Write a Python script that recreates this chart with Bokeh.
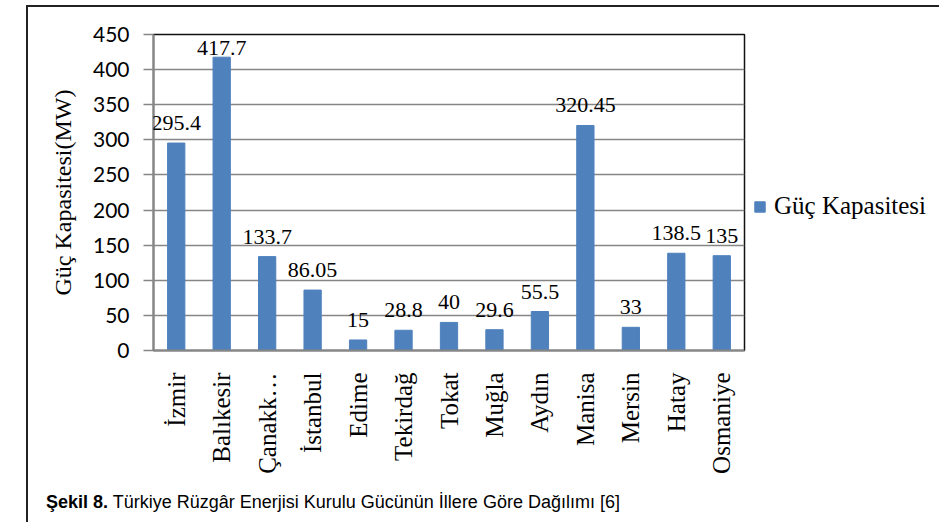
import numpy as np
from bokeh.plotting import figure
from bokeh.layouts import column
from bokeh.models import (ColumnDataSource, FactorRange, Range1d, LabelSet, Div,
                          Legend, LegendItem, SingleIntervalTicker)
from bokeh.embed import file_html
from bokeh.resources import INLINE

# ---- data ----
# category labels as shown on the chart (Çanakkale appears truncated)
cities = ["İzmir", "Balıkesir", "Çanakk…", "İstanbul", "Edime", "Tekirdağ", "Tokat",
          "Muğla", "Aydın", "Manisa", "Mersin", "Hatay", "Osmaniye"]
capacity = [295.4, 417.7, 133.7, 86.05, 15, 28.8, 40, 29.6, 55.5, 320.45, 33, 138.5, 135]
value_text = ["295.4", "417.7", "133.7", "86.05", "15", "28.8", "40", "29.6", "55.5",
              "320.45", "33", "138.5", "135"]
series_name = "Güç Kapasitesi"
y_title = "Güç Kapasitesi(MW)"
caption_bold = "Şekil 8."
caption_rest = "Türkiye Rüzgâr Enerjisi Kurulu Gücünün İllere Göre Dağılımı [6]"

BAR = "#4F81BD"
GRID = "#868686"
SERIF = "Liberation Serif"

label_y = list(np.minimum(np.array(capacity), 403.0))
src = ColumnDataSource(dict(city=cities, cap=capacity, txt=value_text, ly=label_y))

p = figure(x_range=FactorRange(*cities, range_padding=0), y_range=Range1d(0, 450),
           frame_width=591, frame_height=316,
           min_border_left=125, min_border_right=195, min_border_top=27, min_border_bottom=138,
           output_backend="svg", toolbar_location=None, background_fill_color="white",
           border_fill_color="white")

bars = p.vbar(x="city", top="cap", width=0.38, source=src, fill_color=BAR, line_color=BAR)

labels = LabelSet(x="city", y="ly", text="txt", source=src, y_offset=13,
                  text_align="center", text_baseline="alphabetic",
                  text_font=SERIF, text_font_size="22px", text_color="black")
p.add_layout(labels)

# axes
p.yaxis.ticker = SingleIntervalTicker(interval=50)
p.yaxis.minor_tick_line_color = None
p.yaxis.major_tick_out = 10
p.yaxis.major_tick_in = 0
p.yaxis.major_tick_line_color = GRID
p.yaxis.major_tick_line_width = 1.5
p.yaxis.axis_line_color = GRID
p.yaxis.axis_line_width = 2
p.yaxis.major_label_text_font = "Lato"
p.yaxis.major_label_text_font_size = "21px"
p.yaxis.major_label_text_color = "black"
p.yaxis.major_label_standoff = 14
p.yaxis.axis_label = y_title
p.yaxis.axis_label_text_font = SERIF
p.yaxis.axis_label_text_font_style = "normal"
p.yaxis.axis_label_text_font_size = "24px"
p.yaxis.axis_label_text_color = "black"
p.yaxis.axis_label_standoff = 14

p.xaxis.major_label_orientation = np.pi / 2
p.xaxis.major_tick_line_color = None
p.xaxis.minor_tick_line_color = None
p.xaxis.axis_line_color = GRID
p.xaxis.axis_line_width = 2
p.xaxis.major_label_text_font = SERIF
p.xaxis.major_label_text_font_size = "25px"
p.xaxis.major_label_text_color = "black"
p.xaxis.major_label_standoff = 16

p.xgrid.grid_line_color = None
p.ygrid.grid_line_color = GRID
p.ygrid.grid_line_width = 1.5
p.outline_line_color = "#111111"
p.outline_line_width = 1.5

legend = Legend(items=[LegendItem(label=series_name, renderers=[bars])],
                location=(9, 130), orientation="vertical",
                glyph_width=13, glyph_height=13, label_standoff=8,
                padding=0, margin=0, border_line_color=None, background_fill_alpha=0,
                label_text_font=SERIF, label_text_font_size="25px", label_text_color="black")
p.add_layout(legend, "right")

cap = Div(text=f"<b>{caption_bold}</b> {caption_rest}", width=880, height=30,
          margin=(4, 0, 0, 18),
          styles={"font-family": "'Liberation Sans', Arial, sans-serif",
                  "font-size": "18px", "color": "black", "line-height": "20px"})

layout = column(p, cap, margin=(5, 0, 0, 26), spacing=0,
                styles={"border-left": "2px solid #222222", "border-top": "2px solid #222222"})

open("out.html", "w").write(file_html(layout, INLINE))
